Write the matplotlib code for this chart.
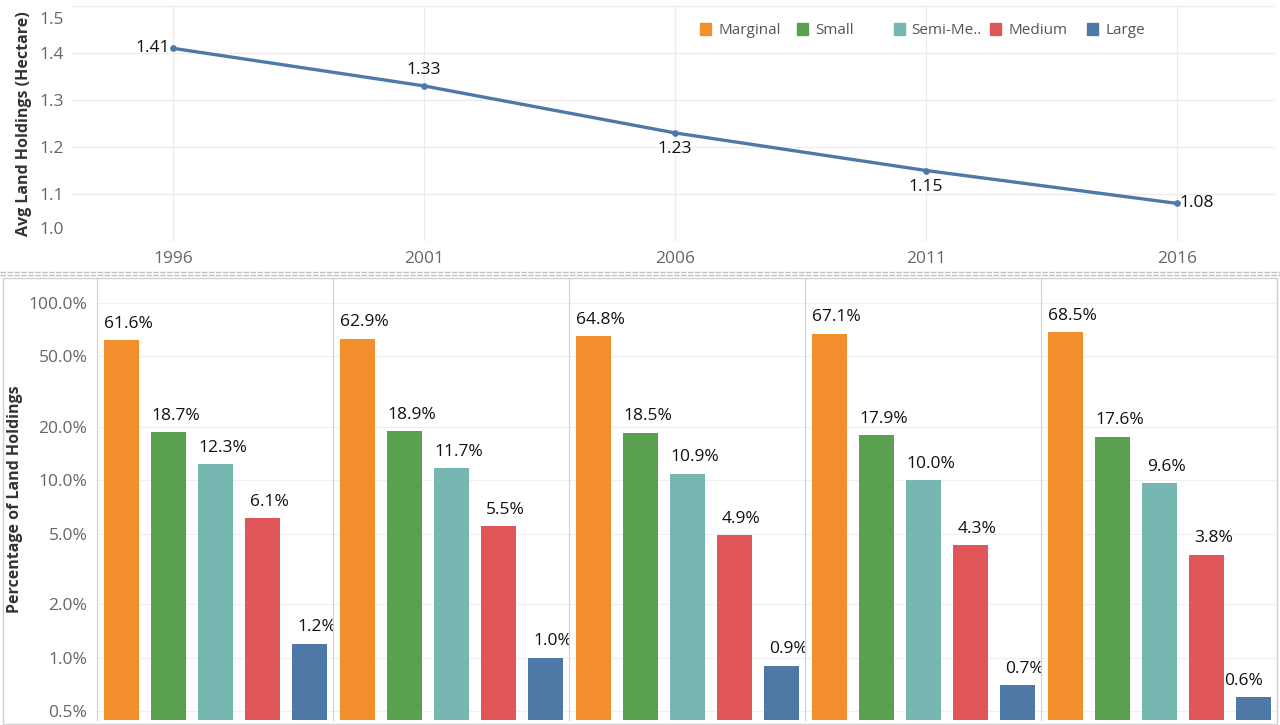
import matplotlib
matplotlib.use("Agg")
import matplotlib.pyplot as plt
from matplotlib.lines import Line2D
from matplotlib.patches import Rectangle
import matplotlib.ticker as mticker

plt.rcParams['font.family'] = ['Open Sans', 'DejaVu Sans']

years = ["1996", "2001", "2006", "2011", "2016"]
avg_holdings = [1.41, 1.33, 1.23, 1.15, 1.08]
label_pos = ["left", "above", "below", "below", "right"]
avg_ticks = [1.0, 1.1, 1.2, 1.3, 1.4, 1.5]

categories = ["Marginal", "Small", "Semi-Me..", "Medium", "Large"]
colors = ["#F28E2B", "#59A14F", "#76B7B2", "#E15759", "#4E79A7"]
pct = {
    "1996": [61.6, 18.7, 12.3, 6.1, 1.2],
    "2001": [62.9, 18.9, 11.7, 5.5, 1.0],
    "2006": [64.8, 18.5, 10.9, 4.9, 0.9],
    "2011": [67.1, 17.9, 10.0, 4.3, 0.7],
    "2016": [68.5, 17.6, 9.6, 3.8, 0.6],
}
pct_ticks = [0.5, 1.0, 2.0, 5.0, 10.0, 20.0, 50.0, 100.0]

W, H = 1280, 725
fig = plt.figure(figsize=(W / 100, H / 100), dpi=100)

def fx(px):
    return px / W

def fy(py):
    return 1 - py / H

tick_color = "#666666"
grid_color = "#ececec"
FS = 12.5

# ---------- top line chart ----------
ax = fig.add_axes([fx(72), fy(241), fx(1275) - fx(72), fy(6) - fy(241)])
x = list(range(len(years)))
ax.plot(x, avg_holdings, color="#4E79A7", lw=2.4, marker="o", ms=3.8, zorder=3)
ax.set_xlim(-0.402, 4.39)
ax.set_ylim(1.0, 1.5)
ax.set_yticks(avg_ticks)
ax.set_yticklabels(["", "1.1", "1.2", "1.3", "1.4", ""])
# edge labels nudged inward as in the original
for t, dy in ((avg_ticks[0], 8), (avg_ticks[-1], -10)):
    ax.annotate(f"{t:.1f}", (0, t), xycoords=("axes fraction", "data"),
                xytext=(-6, dy), textcoords="offset points", ha="right", va="center",
                fontsize=FS, color=tick_color)
ax.set_xticks(x)
ax.set_xticklabels(years)
ax.tick_params(axis="both", length=0, colors=tick_color, labelsize=FS)
ax.tick_params(axis="x", pad=7)
ax.tick_params(axis="y", pad=6)
ax.grid(True, color=grid_color, lw=0.9)
for s in ax.spines.values():
    s.set_visible(False)
ax.set_ylabel("Avg Land Holdings (Hectare)", fontsize=11.5, color="#333333",
              fontweight="bold", labelpad=5)
for xi, v, p in zip(x, avg_holdings, label_pos):
    kw = dict(textcoords="offset points", fontsize=FS, color="#111111")
    if p == "left":
        ax.annotate(f"{v:.2f}", (xi, v), xytext=(-2, 0), ha="right", va="center", **kw)
    elif p == "right":
        ax.annotate(f"{v:.2f}", (xi, v), xytext=(2, 0), ha="left", va="center", **kw)
    elif p == "above":
        ax.annotate(f"{v:.2f}", (xi, v), xytext=(0, 6), ha="center", va="bottom", **kw)
    else:
        ax.annotate(f"{v:.2f}", (xi, v), xytext=(0, -6), ha="center", va="top", **kw)

# legend (fixed-width entries like the original)
leg_x0, leg_dx = 700, 96.8
for k, (c, name) in enumerate(zip(colors, categories)):
    lx = leg_x0 + k * leg_dx
    fig.add_artist(Rectangle((fx(lx), fy(35)), fx(11), fy(23) - fy(35),
                             color=c, transform=fig.transFigure))
    fig.text(fx(lx + 18), fy(31), name, ha="left", va="center",
             fontsize=11, color="#555555")

# ---------- separator ----------
fig.add_artist(Line2D([0, 1], [fy(272), fy(272)], color="#b8c0c8", lw=1.0, ls=(0, (4, 1))))
fig.add_artist(Line2D([0, 1], [fy(274.5), fy(274.5)], color="#b8c0c8", lw=1.0, ls=(0, (4, 1))))
fig.add_artist(Rectangle((fx(3), fy(724)), fx(1277) - fx(3), fy(278) - fy(724),
                         fill=False, ec="#d0d0d0", lw=1.0))

# ---------- bottom bar panels ----------
left0, right0 = 97, 1277
pw = (right0 - left0) / 5
bot, top = fy(720), fy(278)
for i, yr in enumerate(years):
    a = fig.add_axes([fx(left0 + i * pw), bot, fx(pw), top - bot])
    vals = pct[yr]
    bx = list(range(len(categories)))
    a.bar(bx, vals, width=0.745, color=colors, zorder=3)
    a.set_yscale("log")
    a.set_ylim(0.445, 138)
    a.set_xlim(-0.52, 4.5)
    a.set_xticks([])
    a.yaxis.set_major_locator(mticker.FixedLocator(pct_ticks))
    a.yaxis.set_minor_locator(mticker.NullLocator())
    a.grid(True, axis="y", color="#f0f0f0", lw=0.9, zorder=0)
    for s in ["top", "bottom"]:
        a.spines[s].set_visible(False)
    a.spines["left"].set_color("#d0d0d0")
    a.spines["right"].set_visible(i == 4)
    a.spines["right"].set_color("#d0d0d0")
    a.tick_params(axis="y", length=0, colors=tick_color, labelsize=FS, pad=7)
    if i == 0:
        a.set_yticklabels([f"{t:.1f}%" for t in pct_ticks])
        a.set_ylabel("Percentage of Land Holdings", fontsize=11.5, color="#333333",
                     fontweight="bold", labelpad=4)
    else:
        a.set_yticklabels([])
    for j, (xi, v) in enumerate(zip(bx, vals)):
        dx = -7 if (i == 4 and j == 4) else 5
        a.annotate(f"{v:.1f}%", (xi, v), xytext=(dx, 6), textcoords="offset points",
                   ha="center", va="bottom", fontsize=FS, color="#111111",
                   annotation_clip=False)

fig.savefig("out.png", dpi=100)
